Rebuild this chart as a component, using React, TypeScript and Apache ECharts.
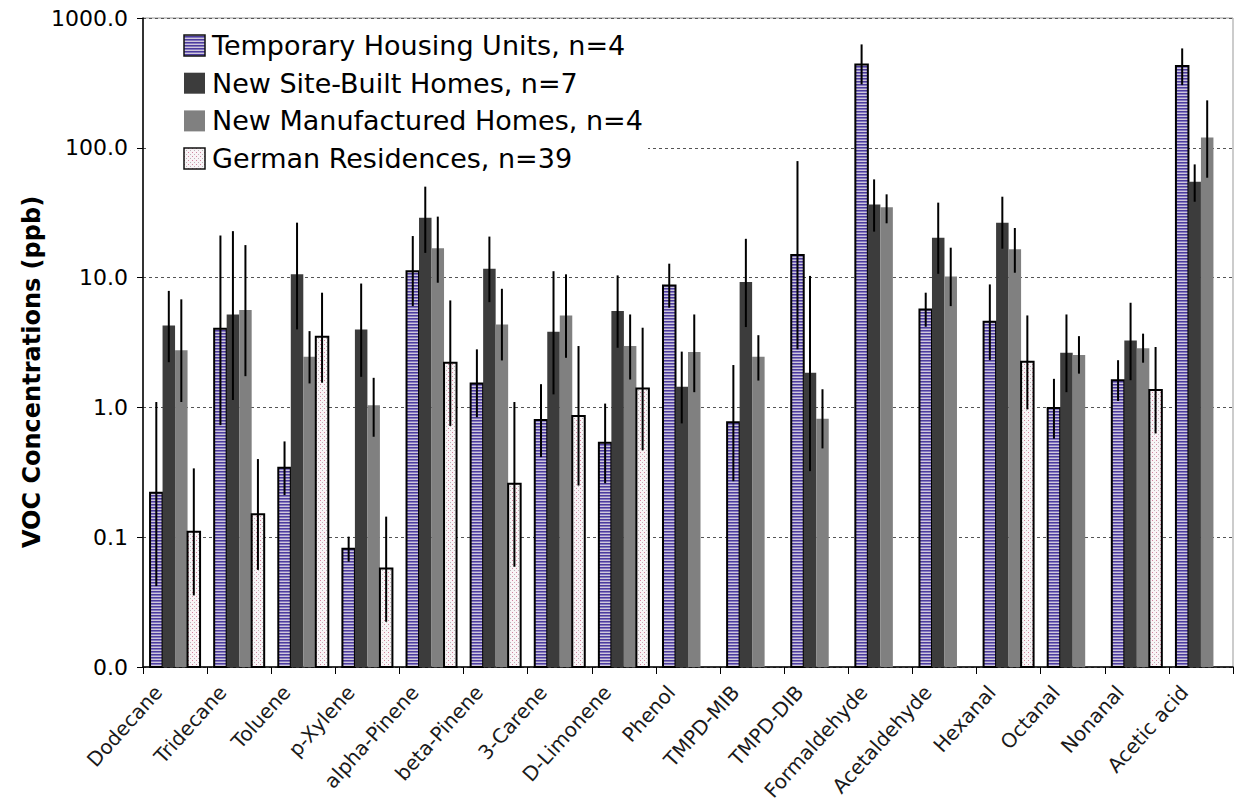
import React, { useEffect, useRef } from "react";
import * as echarts from "echarts";

const categories = [
  "Dodecane", "Tridecane", "Toluene", "p-Xylene", "alpha-Pinene", "beta-Pinene",
  "3-Carene", "D-Limonene", "Phenol", "TMPD-MIB", "TMPD-DIB", "Formaldehyde",
  "Acetaldehyde", "Hexanal", "Octanal", "Nonanal", "Acetic acid",
];

const seriesNames = [
  "Temporary Housing Units, n=4",
  "New Site-Built Homes, n=7",
  "New Manufactured Homes, n=4",
  "German Residences, n=39",
];

const yTicks = [0.01, 0.1, 1, 10, 100, 1000];

const tempMean = [0.22, 4.04, 0.343, 0.0815, 11.2, 1.53, 0.8, 0.535, 8.71, 0.77, 14.9, 439, 5.69, 4.57, 0.99, 1.62, 426];
const tempLow = [0.042, 0.73, 0.211, 0.0648, 6.03, 0.84, 0.414, 0.26, 5.86, 0.27, 2.8, 308, 4.18, 2.31, 0.574, 1.12, 304];
const tempHigh = [1.1, 21.1, 0.547, 0.101, 20.9, 2.8, 1.51, 1.07, 12.8, 2.12, 79, 626, 7.65, 8.86, 1.66, 2.31, 583];

const siteMean = [4.28, 5.2, 10.6, 3.99, 28.9, 11.7, 3.83, 5.52, 1.44, 9.23, 1.85, 36.6, 20.3, 26.5, 2.64, 3.28, 54.8];
const siteLow = [2.23, 1.14, 3.99, 1.72, 15.5, 6.47, 1.26, 2.88, 0.753, 4.16, 0.323, 22.6, 10.7, 16.7, 1.31, 1.62, 38.4];
const siteHigh = [7.9, 22.8, 26.5, 9.0, 50.2, 20.7, 11.2, 10.4, 2.69, 19.9, 10.3, 57.1, 37.8, 42, 5.2, 6.4, 74.5];

const mfgMean = [2.76, 5.62, 2.46, 1.04, 16.8, 4.36, 5.11, 2.97, 2.67, 2.46, 0.818, 34.9, 10.2, 16.5, 2.53, 2.85, 120];
const mfgLow = [1.1, 1.74, 1.53, 0.594, 9.13, 2.3, 2.41, 1.64, 1.31, 1.61, 0.483, 26.2, 6.03, 10.9, 1.82, 2.21, 58.8];
const mfgHigh = [6.8, 17.8, 3.87, 1.69, 29.5, 8.2, 10.6, 5.2, 5.2, 3.6, 1.38, 43.8, 17.0, 24.1, 3.54, 3.7, 232];

const germanMean = [0.11, 0.15, 3.5, 0.0575, 2.21, 0.258, 0.857, 1.4, null, null, null, null, null, 2.25, null, 1.36, null];
const germanLow = [0.0356, 0.056, 1.55, 0.0223, 0.72, 0.0592, 0.25, 0.467, null, null, null, null, null, 0.965, null, 0.63, null];
const germanHigh = [0.339, 0.4, 7.65, 0.144, 6.67, 1.1, 2.97, 4.11, null, null, null, null, null, 5.11, null, 2.92, null];

const FONT = '"DejaVu Sans", Verdana, sans-serif';

function makeTile(w: number, h: number, draw: (ctx: CanvasRenderingContext2D) => void) {
  const c = document.createElement("canvas");
  c.width = w;
  c.height = h;
  const ctx = c.getContext("2d")!;
  draw(ctx);
  return { image: c, repeat: "repeat", imageWidth: w, imageHeight: h } as any;
}

export default function App() {
  const ref = useRef<HTMLDivElement>(null);

  useEffect(() => {
    if (!ref.current) return;
    document.body.style.margin = "0";
    const chart = echarts.init(ref.current, undefined, { renderer: "svg" });

    const stripe = makeTile(4, 3, (ctx) => {
      const rows = ["#4c3c9c", "#8478c0", "#d0c8da"];
      rows.forEach((col, r) => {
        ctx.fillStyle = col;
        ctx.fillRect(0, r, 4, 1);
      });
    });
    const dots = makeTile(4, 4, (ctx) => {
      ctx.fillStyle = "#f8f4f6";
      ctx.fillRect(0, 0, 4, 4);
      ctx.fillStyle = "#d4849f";
      ctx.fillRect(0, 0, 1, 1);
      ctx.fillStyle = "#bdb4b8";
      ctx.fillRect(2, 2, 1, 1);
    });

    const fills: any[] = [stripe, "#3c3c3c", "#808080", dots];
    const strokes: (string | null)[] = ["#000", null, null, "#000"];
    const means = [tempMean, siteMean, mfgMean, germanMean];
    const lows = [tempLow, siteLow, mfgLow, germanLow];
    const highs = [tempHigh, siteHigh, mfgHigh, germanHigh];

    const series = seriesNames.map((name, k) => ({
      type: "custom",
      name,
      coordinateSystem: "cartesian2d",
      encode: { x: 0, y: 1 },
      data: categories
        .map((_, i) => [i, means[k][i], lows[k][i], highs[k][i]])
        .filter((d) => d[1] != null),
      renderItem: (params: any, api: any) => {
        const i = api.value(0);
        const v = api.value(1);
        const lo = api.value(2);
        const hi = api.value(3);
        const band = params.coordSys.width / categories.length;
        const barW = band * 0.195;
        const top = api.coord([i, v]);
        const base = api.coord([i, yTicks[0]]);
        const x0 = top[0] - 2 * barW + k * barW;
        const cx = x0 + barW / 2;
        const pLo = api.coord([i, lo]);
        const pHi = api.coord([i, hi]);
        const children: any[] = [
          {
            type: "rect",
            shape: { x: x0, y: top[1], width: barW, height: base[1] - top[1] },
            style: strokes[k]
              ? { fill: fills[k], stroke: strokes[k], lineWidth: 2 }
              : { fill: fills[k] },
          },
          {
            type: "line",
            shape: { x1: cx, y1: pLo[1], x2: cx, y2: pHi[1] },
            style: { stroke: "#000", lineWidth: 2 },
          },
        ];
        return { type: "group", children };
      },
    }));

    const legendRowY = [45.5, 83.2, 120.9, 158.6];
    const legendGraphics: any[] = [
      {
        type: "rect",
        z: 100,
        shape: { x: 147, y: 19, width: 501, height: 160 },
        style: { fill: "#fff" },
      },
    ];
    seriesNames.forEach((name, k) => {
      legendGraphics.push({
        type: "rect",
        z: 101,
        shape: { x: 184, y: legendRowY[k] - 10.5, width: 21, height: 21 },
        style: strokes[k]
          ? { fill: fills[k], stroke: "#111", lineWidth: 1.5 }
          : { fill: fills[k] },
      });
      legendGraphics.push({
        type: "text",
        z: 101,
        style: {
          text: name,
          x: 212,
          y: legendRowY[k],
          font: `27px ${FONT}`,
          fill: "#000",
          verticalAlign: "middle",
        },
      });
    });
    legendGraphics.push({
      type: "text",
      z: 101,
      x: 32,
      y: 372,
      rotation: Math.PI / 2,
      style: {
        text: "VOC Concentrations (ppb)",
        x: 0,
        y: 0,
        font: `bold 24px ${FONT}`,
        fill: "#000",
        align: "center",
        verticalAlign: "middle",
      },
    });

    chart.setOption({
      animation: false,
      backgroundColor: "#fff",
      grid: {
        left: 143,
        right: 3,
        top: 18,
        bottom: 142,
        containLabel: false,
        outerBoundsMode: "none",
        show: true,
        borderColor: "#999",
        borderWidth: 1,
        backgroundColor: "transparent",
      },
      xAxis: {
        type: "category",
        data: categories,
        boundaryGap: true,
        axisLine: { show: true, lineStyle: { color: "#000", width: 1.5 } },
        axisTick: { show: true, length: 7, lineStyle: { color: "#000" } },
        axisLabel: {
          interval: 0,
          rotate: 48,
          margin: 3,
          padding: [0, 25, 0, 0],
          fontSize: 20,
          fontFamily: FONT,
          color: "#1a1a1a",
        },
        splitLine: { show: false },
      },
      yAxis: {
        type: "log",
        logBase: 10,
        min: yTicks[0],
        max: yTicks[yTicks.length - 1],
        splitNumber: 5,
        axisLine: { show: true, lineStyle: { color: "#000", width: 1.5 } },
        axisTick: { show: true, length: 6, lineStyle: { color: "#000" } },
        axisLabel: {
          fontSize: 22,
          fontFamily: FONT,
          color: "#000",
          margin: 15,
          formatter: (v: number) => v.toFixed(1),
        },
        splitLine: {
          show: true,
          lineStyle: { color: "#555", type: [3, 3], width: 1 },
        },
      },
      series,
      graphic: legendGraphics,
    });

    return () => chart.dispose();
  }, []);

  return <div ref={ref} style={{ width: 1236, height: 809 }} />;
}
